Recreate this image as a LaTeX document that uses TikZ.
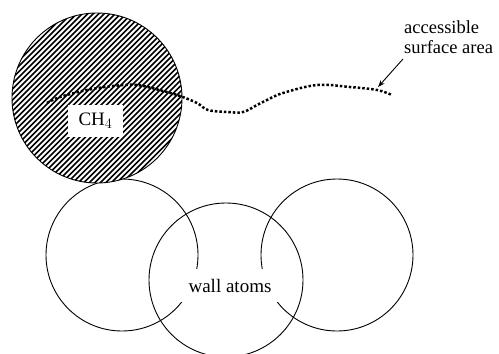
\documentclass[tikz,border=0pt]{standalone}
\usepackage{fontspec}
\setmainfont{Liberation Serif}
\usetikzlibrary{arrows.meta}
\tikzset{
  atom/.style={circle, draw, line width=0.9pt, inner sep=0pt},
  lbl/.style={font=\fontsize{18.5}{20}\selectfont, inner sep=0pt},
  whitebox/.style={fill=white, inner sep=0pt, font=\fontsize{19}{22}\selectfont},
  surf/.style={line width=2.5pt, dash pattern=on 2.5pt off 2pt},
  pointer/.style={line width=0.9pt, -{Stealth[length=7pt,width=5pt]}}
}
\begin{document}
\begin{tikzpicture}[x=1pt,y=-1pt]
\useasboundingbox (0,0) rectangle (499,354);
\clip (0,0) rectangle (499,354);
% wall atoms
\node[atom, minimum size=152pt] (w1) at (122,255) {};
\node[atom, minimum size=154pt] (w2) at (226,280) {};
\node[atom, minimum size=152pt] (w3) at (337,255) {};
% methane with hatching
\node[atom, minimum size=170pt, fill=white, path picture={
  \foreach \c in {-132,-126.5,...,132} {\draw[line width=1.6pt] (\c-150,150) -- (\c+150,-150);}
}] (ch4) at (97,98) {};
% labels with white boxes
\node[whitebox, minimum width=55pt, minimum height=32pt] (ch4lbl) at (95.5,121) {CH$_4$};
\node[whitebox, minimum width=98pt, minimum height=33pt] (wall) at (230,285.5) {wall atoms};
% accessible surface curve
\draw[surf] plot[smooth, tension=0.6] coordinates {(47,103) (60,97) (87,90) (113,86) (137,85) (163,91) (180,96) (197,103) (208,110) (227,112) (243,112) (257,105) (267,100) (283,93) (317,85) (350,87) (377,90) (392,95)};
% label and pointer
\node[lbl, anchor=north west, align=left] (acc) at (404,20.5) {accessible\\surface area};
\coordinate (tail) at (403,59);
\coordinate (tip) at (378,87);
\draw[pointer] (tail) -- (tip);
\end{tikzpicture}
\end{document}
